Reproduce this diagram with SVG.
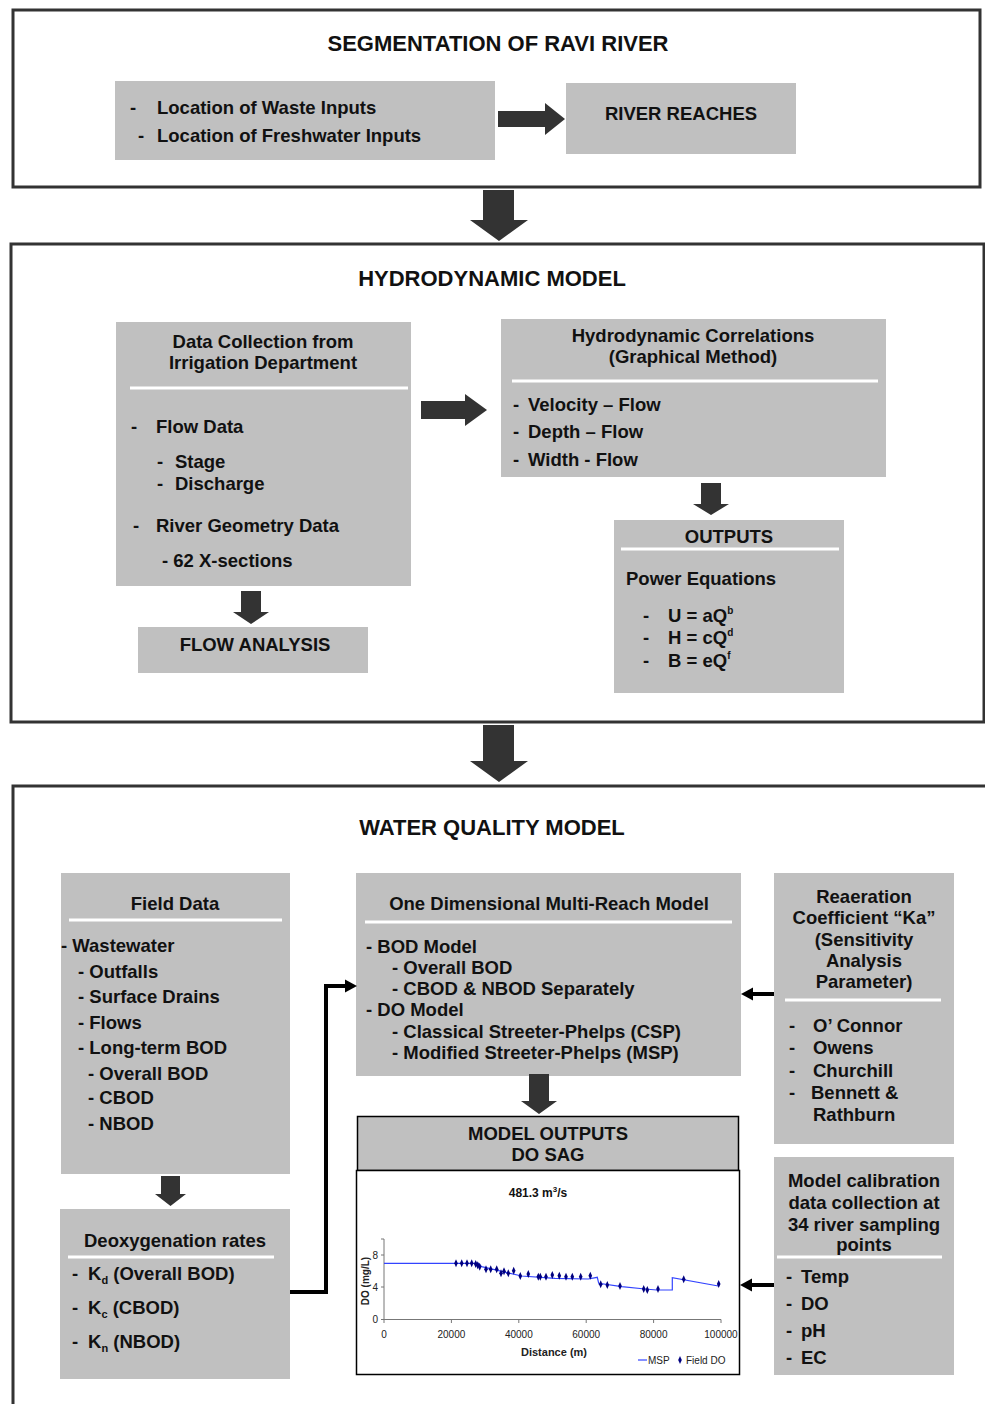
<svg xmlns="http://www.w3.org/2000/svg" width="985" height="1404" viewBox="0 0 985 1404">
<style>
.frame{fill:none;stroke:#333;stroke-width:3}
.box{fill:#c0c0c0}
.t{font-family:"Liberation Sans",Arial,sans-serif;font-weight:bold;font-size:18.5px;fill:#111}
.h{font-size:22px}
.c{text-anchor:middle}
.sep{stroke:#fff;stroke-width:3}
.big{fill:#333}
.conn{stroke:#000;stroke-width:4;fill:none}
.ax{stroke:#777;stroke-width:1;fill:none}
.tick{font-family:"Liberation Sans",Arial,sans-serif;font-size:10px;fill:#222}
.msp{stroke:#3344ff;stroke-width:1.2;fill:none}
</style>
<defs>
<path id="dia" d="M0,-4 L1.8,0 L0,4 L-1.8,0 Z" fill="#000080"/>
<marker id="ah" markerWidth="4" markerHeight="4" refX="2" refY="2" orient="auto" markerUnits="strokeWidth">
<path d="M0,0.4 L3,2 L0,3.6 Z" fill="#000"/>
</marker>
</defs>
<rect width="985" height="1404" fill="#fff"/>

<g id="seg">
<rect class="frame" x="13" y="10" width="967" height="177"/>
<text class="t h c" x="498" y="51">SEGMENTATION OF RAVI RIVER</text>
</g>
<g id="inputs">
<rect class="box" x="115" y="81" width="380" height="79"/>
<text class="t" x="130" y="114">-</text><text class="t" x="157" y="114">Location of Waste Inputs</text>
<text class="t" x="138" y="142">-</text><text class="t" x="157" y="142">Location of Freshwater Inputs</text>
</g>
<g id="reaches">
<rect class="box" x="566" y="83" width="230" height="71"/>
<text class="t c" x="681" y="120">RIVER REACHES</text>
</g>

<g id="hydro">
<rect class="frame" x="11" y="244" width="973" height="478"/>
<text class="t h c" x="492" y="286">HYDRODYNAMIC MODEL</text>
</g>
<g id="datacoll">
<rect class="box" x="116" y="322" width="295" height="264"/>
<text class="t c" x="263" y="348">Data Collection from</text>
<text class="t c" x="263" y="369">Irrigation Department</text>
<line class="sep" x1="130" y1="388" x2="408" y2="388"/>
<text class="t" x="131" y="433">-</text><text class="t" x="156" y="433">Flow Data</text>
<text class="t" x="157" y="468">-</text><text class="t" x="175" y="468">Stage</text>
<text class="t" x="157" y="490">-</text><text class="t" x="175" y="490">Discharge</text>
<text class="t" x="133" y="532">-</text><text class="t" x="156" y="532">River Geometry Data</text>
<text class="t" x="162" y="567">- 62 X-sections</text>
</g>
<g id="flowan">
<rect class="box" x="138" y="627" width="230" height="46"/>
<text class="t c" x="255" y="651">FLOW ANALYSIS</text>
</g>
<g id="corr">
<rect class="box" x="501" y="319" width="385" height="158"/>
<text class="t c" x="693" y="342">Hydrodynamic Correlations</text>
<text class="t c" x="693" y="363">(Graphical Method)</text>
<line class="sep" x1="512" y1="381" x2="878" y2="381"/>
<text class="t" x="513" y="411">-</text><text class="t" x="528" y="411">Velocity – Flow</text>
<text class="t" x="513" y="438">-</text><text class="t" x="528" y="438">Depth – Flow</text>
<text class="t" x="513" y="466">-</text><text class="t" x="528" y="466">Width - Flow</text>
</g>
<g id="outputs">
<rect class="box" x="614" y="520" width="230" height="173"/>
<text class="t c" x="729" y="543">OUTPUTS</text>
<line class="sep" x1="621" y1="549" x2="839" y2="549"/>
<text class="t" x="626" y="585">Power Equations</text>
<text class="t" x="643" y="622">-</text><text class="t" x="668" y="622">U = aQ<tspan font-size="10" dy="-8">b</tspan></text>
<text class="t" x="643" y="644">-</text><text class="t" x="668" y="644">H = cQ<tspan font-size="10" dy="-8">d</tspan></text>
<text class="t" x="643" y="667">-</text><text class="t" x="668" y="667">B = eQ<tspan font-size="10" dy="-8">f</tspan></text>
</g>

<g id="wq">
<rect class="frame" x="13" y="786" width="990" height="640"/>
<text class="t h c" x="492" y="835">WATER QUALITY MODEL</text>
</g>
<g id="field">
<rect class="box" x="61" y="873" width="229" height="301"/>
<text class="t c" x="175" y="910">Field Data</text>
<line class="sep" x1="69" y1="920" x2="282" y2="920"/>
<text class="t" x="61" y="952">- Wastewater</text>
<text class="t" x="78" y="978">- Outfalls</text>
<text class="t" x="78" y="1003">- Surface Drains</text>
<text class="t" x="78" y="1029">- Flows</text>
<text class="t" x="78" y="1054">- Long-term BOD</text>
<text class="t" x="88" y="1080">- Overall BOD</text>
<text class="t" x="88" y="1104">- CBOD</text>
<text class="t" x="88" y="1130">- NBOD</text>
</g>
<g id="deox">
<rect class="box" x="60" y="1209" width="230" height="170"/>
<text class="t c" x="175" y="1247">Deoxygenation rates</text>
<line class="sep" x1="68" y1="1257" x2="274" y2="1257"/>
<text class="t" x="72" y="1280">-</text><text class="t" x="88" y="1280">K<tspan font-size="11" dy="4">d</tspan><tspan dy="-4"> (Overall BOD)</tspan></text>
<text class="t" x="72" y="1314">-</text><text class="t" x="88" y="1314">K<tspan font-size="11" dy="4">c</tspan><tspan dy="-4"> (CBOD)</tspan></text>
<text class="t" x="72" y="1348">-</text><text class="t" x="88" y="1348">K<tspan font-size="11" dy="4">n</tspan><tspan dy="-4"> (NBOD)</tspan></text>
</g>
<g id="onedim">
<rect class="box" x="356" y="873" width="385" height="203"/>
<text class="t c" x="549" y="910">One Dimensional Multi-Reach Model</text>
<line class="sep" x1="365" y1="922" x2="732" y2="922"/>
<text class="t" x="366" y="953">- BOD Model</text>
<text class="t" x="392" y="974">- Overall BOD</text>
<text class="t" x="392" y="995">- CBOD &amp; NBOD Separately</text>
<text class="t" x="366" y="1016">- DO Model</text>
<text class="t" x="392" y="1038">- Classical Streeter-Phelps (CSP)</text>
<text class="t" x="392" y="1059">- Modified Streeter-Phelps (MSP)</text>
</g>
<g id="reaer">
<rect class="box" x="774" y="873" width="180" height="271"/>
<text class="t c" x="864" y="903">Reaeration</text>
<text class="t c" x="864" y="924">Coefficient “Ka”</text>
<text class="t c" x="864" y="946">(Sensitivity</text>
<text class="t c" x="864" y="967">Analysis</text>
<text class="t c" x="864" y="988">Parameter)</text>
<line class="sep" x1="785" y1="1000" x2="941" y2="1000"/>
<text class="t" x="789" y="1032">-</text><text class="t" x="813" y="1032">O’ Connor</text>
<text class="t" x="789" y="1054">-</text><text class="t" x="813" y="1054">Owens</text>
<text class="t" x="789" y="1077">-</text><text class="t" x="813" y="1077">Churchill</text>
<text class="t" x="789" y="1099">-</text><text class="t" x="811" y="1099">Bennett &amp;</text>
<text class="t" x="813" y="1121">Rathburn</text>
</g>
<g id="modelout">
<rect class="box" x="357.5" y="1116.5" width="381" height="54" stroke="#000" stroke-width="1.5"/>
<text class="t c" x="548" y="1140">MODEL OUTPUTS</text>
<text class="t c" x="548" y="1161">DO SAG</text>
</g>
<g id="chart">
<rect x="356.5" y="1170.5" width="383" height="204" fill="#fff" stroke="#000" stroke-width="1.5"/>
<text class="t c" x="538" y="1197" style="font-size:12px">481.3 m<tspan style="font-size:8px" dy="-5">3</tspan><tspan dy="5">/s</tspan></text>
<path class="ax" d="M384,1239 V1319.5 H721 M381,1239 H384 M381,1255 H384 M381,1287 H384 M381,1319.5 H384 M384,1319.5 V1323 M451.4,1319.5 V1323 M518.8,1319.5 V1323 M586.2,1319.5 V1323 M653.6,1319.5 V1323 M721,1319.5 V1323"/>
<text class="tick" x="378" y="1259" text-anchor="end">8</text>
<text class="tick" x="378" y="1291" text-anchor="end">4</text>
<text class="tick" x="378" y="1323" text-anchor="end">0</text>
<text class="tick c" x="384" y="1338">0</text>
<text class="tick c" x="451.4" y="1338">20000</text>
<text class="tick c" x="518.8" y="1338">40000</text>
<text class="tick c" x="586.2" y="1338">60000</text>
<text class="tick c" x="653.6" y="1338">80000</text>
<text class="tick c" x="721" y="1338">100000</text>
<text class="tick c" x="554" y="1356" style="font-weight:bold;font-size:11px">Distance (m)</text>
<text class="tick c" transform="translate(369,1281) rotate(-90)" style="font-weight:bold">DO (mg/L)</text>
<polyline class="msp" points="384,1263.3 478.3,1263.3 481.7,1266.7 521.7,1276 555,1278.3 588.3,1279 597.3,1277.3 598.7,1283.3 621.7,1286.7 645,1289 656.7,1290 672.3,1290 672.3,1277.7 718.3,1286"/>
<g>
<use href="#dia" x="456" y="1263.3"/><use href="#dia" x="461.7" y="1263.3"/><use href="#dia" x="467" y="1263.3"/><use href="#dia" x="471.7" y="1263.3"/>
<use href="#dia" x="475.7" y="1264"/><use href="#dia" x="477.7" y="1265.3"/><use href="#dia" x="479.7" y="1266.7"/><use href="#dia" x="486" y="1269.3"/>
<use href="#dia" x="490.7" y="1269.3"/><use href="#dia" x="496.7" y="1269.3"/><use href="#dia" x="501" y="1273.3"/><use href="#dia" x="504" y="1271.3"/>
<use href="#dia" x="508.3" y="1273.3"/><use href="#dia" x="513.7" y="1270.7"/><use href="#dia" x="520.3" y="1276"/><use href="#dia" x="528.3" y="1274"/>
<use href="#dia" x="538.3" y="1276.7"/><use href="#dia" x="540.3" y="1276.7"/><use href="#dia" x="546" y="1276.7"/><use href="#dia" x="552.3" y="1275"/>
<use href="#dia" x="559.3" y="1275.7"/><use href="#dia" x="566" y="1276.7"/><use href="#dia" x="572.3" y="1276.7"/><use href="#dia" x="580.7" y="1276.7"/>
<use href="#dia" x="590.3" y="1275.7"/><use href="#dia" x="600.7" y="1284.3"/><use href="#dia" x="607.3" y="1285"/><use href="#dia" x="620" y="1286"/>
<use href="#dia" x="643.7" y="1289"/><use href="#dia" x="647.3" y="1290"/><use href="#dia" x="658" y="1289"/><use href="#dia" x="683.7" y="1279.3"/>
<use href="#dia" x="718.7" y="1284"/>
</g>
<line class="msp" x1="638" y1="1360" x2="647" y2="1360"/>
<text class="tick" x="648" y="1364">MSP</text>
<use href="#dia" x="680" y="1360"/>
<text class="tick" x="686" y="1364">Field DO</text>
</g>
<g id="calib">
<rect class="box" x="774" y="1157" width="180" height="218"/>
<text class="t c" x="864" y="1187">Model calibration</text>
<text class="t c" x="864" y="1209">data collection at</text>
<text class="t c" x="864" y="1231">34 river sampling</text>
<text class="t c" x="864" y="1251">points</text>
<line class="sep" x1="777" y1="1257" x2="942" y2="1257"/>
<text class="t" x="786" y="1283">-</text><text class="t" x="801" y="1283">Temp</text>
<text class="t" x="786" y="1310">-</text><text class="t" x="801" y="1310">DO</text>
<text class="t" x="786" y="1337">-</text><text class="t" x="801" y="1337">pH</text>
<text class="t" x="786" y="1364">-</text><text class="t" x="801" y="1364">EC</text>
</g>

<g id="connectors">
<polygon class="big" points="498,111 545,111 545,103 565,119 545,135 545,127 498,127"/>
<polygon class="big" points="483,190 514,190 514,220 528,220 499,241 470,220 483,220"/>
<polygon class="big" points="421,401 465,401 465,394 487,410 465,426 465,419 421,419"/>
<polygon class="big" points="701,483 721,483 721,504 729,504 711,515 693,504 701,504"/>
<polygon class="big" points="241,591 261,591 261,612 269,612 251,624 233,612 241,612"/>
<polygon class="big" points="483,725 514,725 514,761 528,761 499,782 470,761 483,761"/>
<polygon class="big" points="161,1176 180,1176 180,1194 186,1194 170.5,1206 155,1194 161,1194"/>
<polygon class="big" points="529,1074 549,1074 549,1101 557,1101 539,1114 521,1101 529,1101"/>
<path class="conn" d="M290,1292 H326 V986 H353" marker-end="url(#ah)"/>
<path class="conn" d="M774,994 H745" marker-end="url(#ah)"/>
<path class="conn" d="M774,1285 H744" marker-end="url(#ah)"/>
</g>
</svg>
